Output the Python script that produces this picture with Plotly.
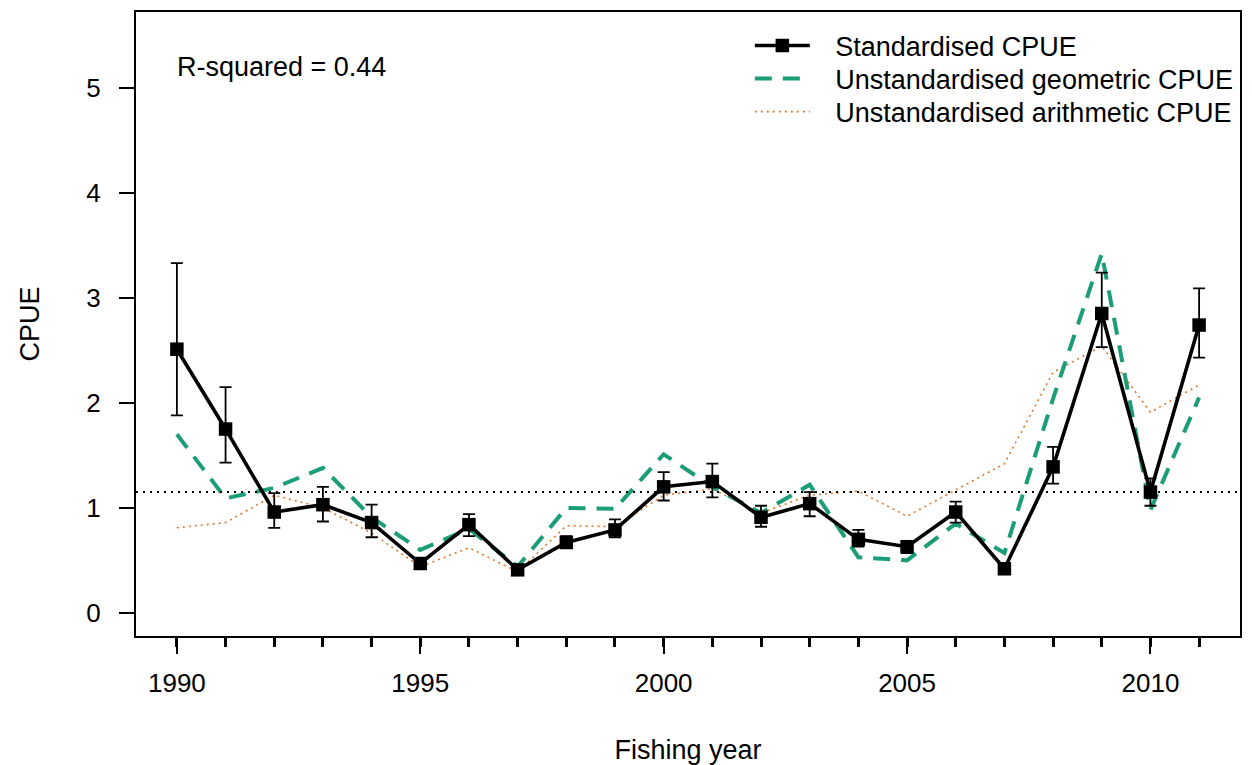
import plotly.graph_objects as go

years = list(range(1990, 2012))
standardised = [2.51, 1.75, 0.96, 1.03, 0.86, 0.47, 0.84, 0.41, 0.67, 0.79, 1.20,
                1.25, 0.91, 1.04, 0.70, 0.63, 0.96, 0.42, 1.39, 2.85, 1.15, 2.74]
std_upper = [3.33, 2.15, 1.14, 1.20, 1.03, 0.52, 0.94, 0.45, 0.73, 0.89, 1.34,
             1.42, 1.02, 1.15, 0.79, 0.68, 1.06, 0.46, 1.58, 3.24, 1.28, 3.09]
std_lower = [1.88, 1.43, 0.81, 0.87, 0.72, 0.43, 0.73, 0.38, 0.62, 0.72, 1.07,
             1.10, 0.82, 0.92, 0.63, 0.57, 0.86, 0.38, 1.23, 2.53, 1.02, 2.43]
geometric = [1.70, 1.09, 1.19, 1.38, 0.91, 0.60, 0.80, 0.44, 1.00, 0.99, 1.51,
             1.20, 0.95, 1.22, 0.53, 0.50, 0.85, 0.57, 2.04, 3.42, 0.98, 2.05]
arithmetic = [0.81, 0.86, 1.12, 1.00, 0.76, 0.44, 0.62, 0.39, 0.83, 0.82, 1.12,
              1.18, 0.95, 1.12, 1.16, 0.92, 1.17, 1.42, 2.29, 2.54, 1.91, 2.17]
ref_level = 1.15
r_squared_text = "R-squared = 0.44"
y_ticks = [0, 1, 2, 3, 4, 5]
x_major_ticks = [1990, 1995, 2000, 2005, 2010]

FONT = "Liberation Sans, Arial, sans-serif"
FS = 27
TFS = 26
PAD = "\u00a0\u00a0\u2009"

err_plus = [u - s for u, s in zip(std_upper, standardised)]
err_minus = [s - l for s, l in zip(standardised, std_lower)]

fig = go.Figure()

fig.add_trace(go.Scatter(
    x=years, y=arithmetic, mode="lines", name=PAD + "Unstandardised arithmetic CPUE",
    line=dict(color="#D9782E", width=1.6, dash="2px,4px"), legend="legend3"))
fig.add_trace(go.Scatter(
    x=years, y=geometric, mode="lines", name=PAD + "Unstandardised geometric CPUE",
    line=dict(color="#1B9E77", width=4, dash="17px,11px"), legend="legend2"))
fig.add_trace(go.Scatter(
    x=years, y=standardised, mode="lines", showlegend=False, hoverinfo="skip",
    line=dict(width=0, color="black"),
    error_y=dict(type="data", symmetric=False, array=err_plus, arrayminus=err_minus,
                 color="black", thickness=1.8, width=6)))
fig.add_trace(go.Scatter(
    x=years, y=standardised, mode="lines+markers", name=PAD + "Standardised CPUE",
    line=dict(color="black", width=3.6),
    marker=dict(symbol="square", size=13.5, color="black"), legend="legend"))

fig.add_shape(type="line", xref="paper", x0=0, x1=1, yref="y", y0=ref_level, y1=ref_level,
              line=dict(color="black", width=2, dash="2px,5px"))

fig.add_annotation(text=r_squared_text, xref="paper", yref="paper", x=0.0353, y=0.912,
                   xanchor="left", yanchor="middle", showarrow=False,
                   font=dict(family=FONT, size=FS, color="black"))

leg_common = dict(x=0.556, xanchor="left", yanchor="middle", bgcolor="rgba(0,0,0,0)",
                  font=dict(family=FONT, size=FS, color="black"), itemwidth=55)

fig.update_layout(
    width=1252, height=765,
    margin=dict(l=128, r=20, t=4, b=137, autoexpand=False),
    paper_bgcolor="white", plot_bgcolor="white",
    font=dict(family=FONT, size=FS, color="black"),
    showlegend=True,
    legend=dict(y=0.9455, **leg_common),
    legend2=dict(y=0.8926, **leg_common),
    legend3=dict(y=0.8397, **leg_common),
)

fig.update_xaxes(
    range=[1989.16, 2011.84], showgrid=False, zeroline=False, automargin=False,
    showline=True, linecolor="black", linewidth=2, mirror=True,
    tickmode="array", tickvals=x_major_ticks, ticks="outside", ticklen=16,
    tickwidth=1.5, tickcolor="black", ticklabelstandoff=7,
    tickfont=dict(family=FONT, size=TFS),
    minor=dict(dtick=1, tick0=1990, ticks="outside", ticklen=9, tickwidth=2.5, tickcolor="black"),
    title=dict(text="Fishing year", standoff=43, font=dict(family=FONT, size=FS)),
)
fig.update_yaxes(
    range=[-0.22, 5.72], showgrid=False, zeroline=False, automargin=False,
    showline=True, linecolor="black", linewidth=2, mirror=True,
    tickmode="array", tickvals=y_ticks, ticks="outside", ticklen=15,
    tickwidth=2, tickcolor="black", ticklabelstandoff=13,
    tickfont=dict(family=FONT, size=TFS),
    title=dict(text="CPUE", standoff=39, font=dict(family=FONT, size=FS)),
)

fig.write_html("out.html")
